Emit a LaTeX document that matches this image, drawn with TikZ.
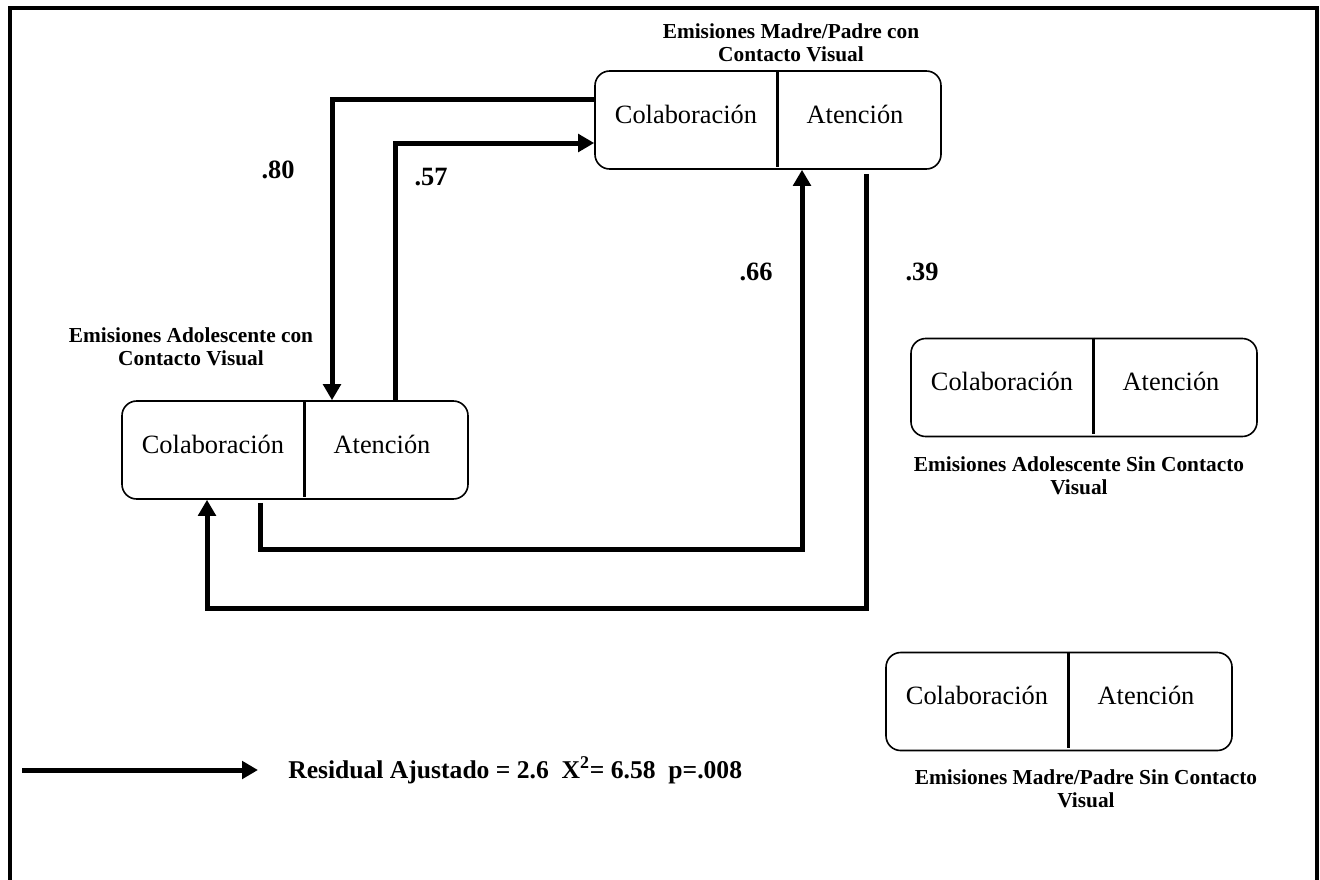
\documentclass[tikz,border=0pt]{standalone}
\usepackage{fontspec}
\setmainfont{Liberation Serif}
\usetikzlibrary{calc,arrows.meta}

% one unit = one pixel of the 1320 x 879 drawing, y pointing down
\tikzset{
  pbox/.style={draw, line width=1.2pt, rounded corners=11pt, inner sep=0pt,
               minimum width=259.5pt, minimum height=73.5pt},
  divline/.style={line width=2.2pt},
  btext/.style={inner sep=0pt, font=\fontsize{19.8}{22}\selectfont},
  ttl/.style={inner sep=0pt, align=center, font=\fontsize{16}{17.3}\selectfont\bfseries},
  coef/.style={inner sep=0pt, font=\fontsize{19.8}{22}\selectfont\bfseries},
  flow/.style={line width=3.75pt, -{Triangle[length=12pt,width=13pt]}},
  frame/.style={line width=3pt}
}

% a rounded box split in two cells: Colaboración | Atención
\newcommand{\emisbox}[3]{%
  \node[pbox] (#1) at (#2,#3) {};
  \draw[divline] ($(#1.north)+(9.5,0)$) -- ($(#1.south)+(9.5,-3)$);
  \node[btext, anchor=base] (#1-c) at ($(#1.center)+(-82,3)$) {Colaboración};
  \node[btext, anchor=base] (#1-a) at ($(#1.center)+(87,3)$) {Atención};
}

\begin{document}
\begin{tikzpicture}[x=0.75pt, y=-0.75pt]
  \useasboundingbox (0,0) rectangle (1320,879);

  % outer frame, open at the bottom
  \draw[frame] (10,885) -- (10,8) -- (1317,8) -- (1317,885);

  % boxes
  \emisbox{mc}{768}{120}
  \emisbox{ac}{295}{450}
  \emisbox{as}{1084}{387.5}
  \emisbox{ms}{1059}{701.5}

  % box titles
  \node[ttl] (mc-t) at (791,43) {Emisiones Madre/Padre con\\Contacto Visual};
  \node[ttl] (ac-t) at (191,347) {Emisiones Adolescente con\\Contacto Visual};
  \node[ttl] (as-t) at (1079,476) {Emisiones Adolescente Sin Contacto\\Visual};
  \node[ttl] (ms-t) at (1086,789) {Emisiones Madre/Padre Sin Contacto\\Visual};

  % significant transitions
  \draw[flow] ($(mc.west)+(0,-21)$) -| ($(ac.north)+(37,0)$);
  \draw[flow] ($(ac.north)+(100,0)$) |- ($(mc.west)+(0,23)$);
  \draw[flow] ($(ac.south)+(-35,3)$) -- ++(0,47) -| ($(mc.south)+(34,0)$);
  \draw[flow] ($(mc.south)+(98,4)$) -- ++(0,435) -| ($(ac.south)+(-88,0)$);

  % transition coefficients
  \node[coef] (k80) at (278,170) {.80};
  \node[coef] (k57) at (431,177) {.57};
  \node[coef] (k66) at (756,272) {.66};
  \node[coef] (k39) at (922,272) {.39};

  % legend
  \coordinate (legS) at (22,770);
  \coordinate (legE) at (258,770);
  \draw[flow] (legS) -- (legE);
  \node[inner sep=0pt, anchor=west, font=\fontsize{19.2}{22}\selectfont\bfseries]
    (leg) at (288,770) {Residual Ajustado = 2.6\ \ X\textsuperscript{2}= 6.58\ \ p=.008};
\end{tikzpicture}
\end{document}
